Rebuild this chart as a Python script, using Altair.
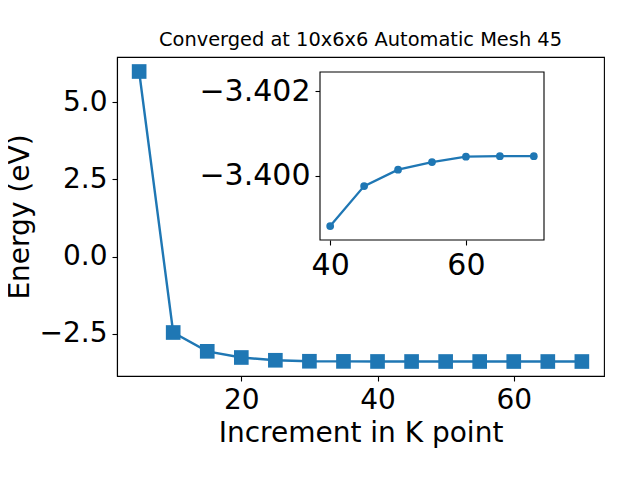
import altair as alt
import pandas as pd

BLUE = "#1f77b4"
FONT = "DejaVu Sans"

# main series
k_points = [5, 10, 15, 20, 25, 30, 35, 40, 45, 50, 55, 60, 65, 70]
energy = [6.0, -2.46, -3.07, -3.27, -3.36, -3.392, -3.396,
          -3.39880, -3.39975, -3.40014, -3.40032, -3.40045, -3.40046, -3.40046]

# inset series
inset_k = [40, 45, 50, 55, 60, 65, 70]
inset_energy = [-3.39880, -3.39975, -3.40014, -3.40032, -3.40045, -3.40046, -3.40046]

main_x_domain = [1.75, 73.25]
main_y_domain = [-3.87, 6.47]
main_x_ticks = [20, 40, 60]
main_y_ticks = [-2.5, 0.0, 2.5, 5.0]

inset_x_domain = [38.5, 71.5]
inset_y_domain = [-3.40246, -3.39847]
inset_x_ticks = [40, 60]
inset_y_ticks = [-3.402, -3.400]

W, H = 487, 319
inset_x_range = [203, 427]
inset_y_range = [15, 183]

main_df = pd.DataFrame({"k": k_points, "e": energy})
inset_df = pd.DataFrame({"k": inset_k, "e": inset_energy})
frame_df = pd.DataFrame({"x0": [inset_x_domain[0]], "x1": [inset_x_domain[1]],
                         "y0": [inset_y_domain[0]], "y1": [inset_y_domain[1]]})

base = alt.Chart(main_df).encode(
    x=alt.X("k:Q", scale=alt.Scale(domain=main_x_domain, nice=False, zero=False),
            axis=alt.Axis(values=main_x_ticks, title="Increment in K point", format="d",
                          titlePadding=5)),
    y=alt.Y("e:Q", scale=alt.Scale(domain=main_y_domain, nice=False, zero=False),
            axis=alt.Axis(values=main_y_ticks, title="Energy (eV)", format=".1f",
                          titlePadding=5)),
)
main = alt.layer(
    base.mark_line(color=BLUE, strokeWidth=2.4),
    base.mark_square(color=BLUE, size=215, opacity=1),
)

ix = alt.X("k:Q", scale=alt.Scale(domain=inset_x_domain, range=inset_x_range, nice=False, zero=False),
           axis=alt.Axis(orient="bottom", offset=-(H - inset_y_range[1]), values=inset_x_ticks,
                         title=None, domain=False, format="d", labelFontSize=30))
iy = alt.Y("e:Q", scale=alt.Scale(domain=inset_y_domain, range=inset_y_range, nice=False, zero=False),
           axis=alt.Axis(orient="left", offset=-inset_x_range[0], values=inset_y_ticks,
                         title=None, domain=False, format=".3f", labelFontSize=30))

frame = alt.Chart(frame_df).mark_rect(fill="white", stroke="black", strokeWidth=1.1).encode(
    x=alt.X("x0:Q"), x2="x1:Q", y=alt.Y("y0:Q"), y2="y1:Q"
)
ibase = alt.Chart(inset_df).encode(x=ix, y=iy)
inset = alt.layer(
    frame,
    ibase.mark_line(color=BLUE, strokeWidth=2.3),
    ibase.mark_circle(color=BLUE, size=60, opacity=1),
)

chart = alt.layer(main, inset).resolve_scale(x="independent", y="independent").properties(
    width=W, height=H,
    title=alt.TitleParams("Converged at 10x6x6 Automatic Mesh 45", fontSize=19.4, font=FONT,
                          fontWeight="normal", color="black", anchor="middle",
                          baseline="alphabetic", offset=-8),
    autosize=alt.AutoSizeParams(type="none"),
    padding={"left": 109, "top": 49, "right": 26, "bottom": 90},
).configure_view(stroke="black", strokeWidth=1.1).configure_axis(
    labelFont=FONT, labelFontSize=28, labelColor="black", labelOverlap=False,
    titleFont=FONT, titleFontSize=28, titleColor="black", titleFontWeight="normal",
    tickSize=5, tickColor="black", tickWidth=1.1, labelPadding=5,
    domainColor="black", domainWidth=1.1, grid=False, labelFlush=False,
)

chart.save("out.html", embed_options={"renderer": "svg", "actions": False})
